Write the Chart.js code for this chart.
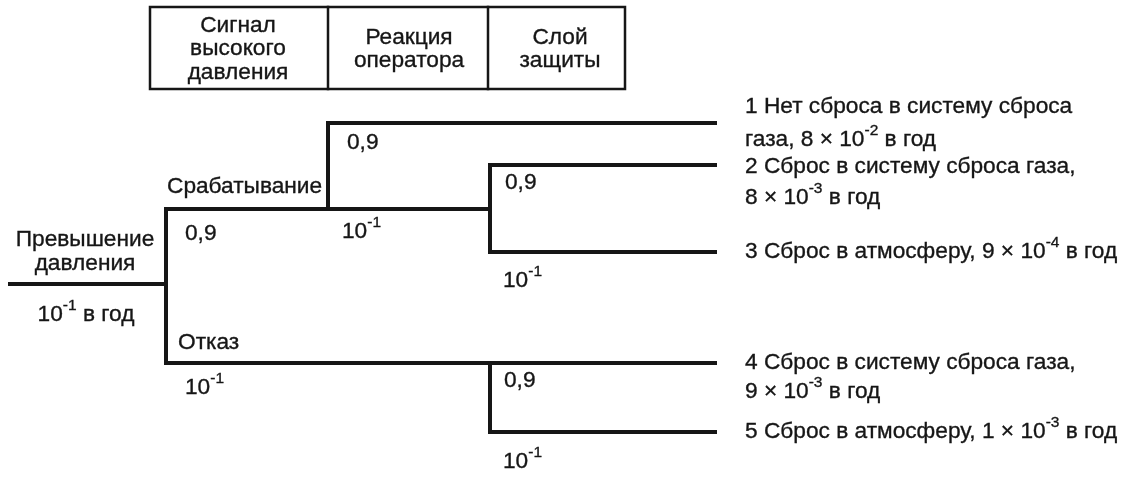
<!DOCTYPE html>
<html><head><meta charset="utf-8">
<script src="https://cdn.jsdelivr.net/npm/chart.js@4.4.1/dist/chart.umd.min.js"></script>
<style>html,body{margin:0;padding:0;background:#fff;}#wrap{width:1125px;height:477px;position:relative;}</style>
</head><body><div id="wrap"><canvas id="c" width="1125" height="477"></canvas></div>
<script>
// ---- tree branch paths (diagram units: x to the right, y downward) ----
const initiatingLine = [[10,284],[166,284]];
const mainPath = [[715,123],[328,123],[328,209],[166,209],[166,363],[490,363],[490,432],[715,432]];
const operatorFailLine = [[328,209],[490,209]];
const protectionUpperPath = [[715,165],[490,165],[490,252],[715,252]];
const protectionLowerTop = [[490,363],[715,363]];
const headerBox = [[150,7],[625,7],[625,89],[150,89],[150,7]];
const headerDivider1 = [[328,7],[328,89]];
const headerDivider2 = [[488,7],[488,89]];

// ---- texts ----
const headerTitles = [['Сигнал','высокого','давления'], ['Реакция','оператора'], ['Слой','защиты']];
const headerCenters = [[238,49],[409,49],[560,49]];

const eventTitle = ['Превышение','давления','10^{-1} в год'];
const eventAnchors = [[85,240],[85,264],[86,315]];

const branchNames = ['Срабатывание','Отказ'];
const branchNameAnchors = [[167,187],[178,343]];

const branchProbabilities = ['0,9','10^{-1}','0,9','10^{-1}','0,9','10^{-1}','0,9','10^{-1}'];
const probabilityAnchors = [[185,234],[185,388],[347,143],[342,232],[505,183],[503,281],[504,381],[503,462]];

const outcomeLines = [
  '1 Нет сброса в систему сброса',
  'газа, 8 × 10^{-2} в год',
  '2 Сброс в систему сброса газа,',
  '8 × 10^{-3} в год',
  '3 Сброс в атмосферу, 9 × 10^{-4} в год',
  '4 Сброс в систему сброса газа,',
  '9 × 10^{-3} в год',
  '5 Сброс в атмосферу, 1 × 10^{-3} в год'
];
const outcomeAnchors = [[745,107],[745,140],[745,167],[745,198],[745,252],[745,363],[745,392],[745,432]];

const INK = '#161616';
const FONT = '"Liberation Sans", Arial, sans-serif';
const MAIN = 22.7, SUP = 15.5;

function toPts(arr){ return arr.map(p => ({x:p[0], y:p[1]})); }
function ds(arr, w){
  return {data: toPts(arr), showLine:true, borderColor:INK, borderWidth:w,
          pointRadius:0, pointHoverRadius:0, borderJoinStyle:'miter', borderCapStyle:'square',
          fill:false, tension:0};
}

function segments(text){
  const out=[]; const re=/\^\{([^}]*)\}/g; let last=0, m;
  while((m=re.exec(text))){ if(m.index>last) out.push({t:text.slice(last,m.index),sup:false}); out.push({t:m[1],sup:true}); last=re.lastIndex; }
  if(last<text.length) out.push({t:text.slice(last),sup:false});
  return out;
}
function drawRich(ctx, text, x, y, align){
  const segs = segments(text);
  let total=0;
  segs.forEach(s=>{ ctx.font=(s.sup?SUP:MAIN)+'px '+FONT; s.w=ctx.measureText(s.t).width; total+=s.w; });
  let cx = align==='center' ? x-total/2 : x;
  ctx.textBaseline='middle'; ctx.textAlign='left';
  segs.forEach(s=>{
    ctx.font=(s.sup?SUP:MAIN)+'px '+FONT;
    const yy = s.sup ? y-9 : y;
    ctx.fillText(s.t, cx, yy);
    ctx.strokeText(s.t, cx, yy);
    cx+=s.w;
  });
}

const textPlugin = {
  id:'treeText',
  afterDatasetsDraw(chart){
    const ctx=chart.ctx, sx=chart.scales.x, sy=chart.scales.y;
    const px=v=>sx.getPixelForValue(v), py=v=>sy.getPixelForValue(v);
    ctx.save(); ctx.fillStyle=INK; ctx.strokeStyle=INK; ctx.lineWidth=0.35;
    headerTitles.forEach((lines,i)=>{
      const [cx,cy]=headerCenters[i]; const lh=23.5; const start=cy-(lines.length-1)*lh/2;
      lines.forEach((l,j)=>drawRich(ctx,l,px(cx),py(start+j*lh),'center'));
    });
    eventTitle.forEach((t,i)=>drawRich(ctx,t,px(eventAnchors[i][0]),py(eventAnchors[i][1]),'center'));
    branchNames.forEach((t,i)=>drawRich(ctx,t,px(branchNameAnchors[i][0]),py(branchNameAnchors[i][1]),'left'));
    branchProbabilities.forEach((t,i)=>drawRich(ctx,t,px(probabilityAnchors[i][0]),py(probabilityAnchors[i][1]),'left'));
    outcomeLines.forEach((t,i)=>drawRich(ctx,t,px(outcomeAnchors[i][0]),py(outcomeAnchors[i][1]),'left'));
    ctx.restore();
  }
};

new Chart(document.getElementById('c'), {
  type:'scatter',
  data:{datasets:[
    ds(initiatingLine,4), ds(mainPath,4), ds(operatorFailLine,4),
    ds(protectionUpperPath,4), ds(protectionLowerTop,4),
    ds(headerBox,2.5), ds(headerDivider1,2.5), ds(headerDivider2,2.5)
  ]},
  options:{
    responsive:false, animation:false, maintainAspectRatio:false,
    layout:{padding:0},
    plugins:{legend:{display:false}, tooltip:{enabled:false}},
    scales:{
      x:{type:'linear', min:0, max:1125, display:false},
      y:{type:'linear', min:0, max:477, reverse:true, display:false}
    }
  },
  plugins:[textPlugin]
});
</script></body></html>
